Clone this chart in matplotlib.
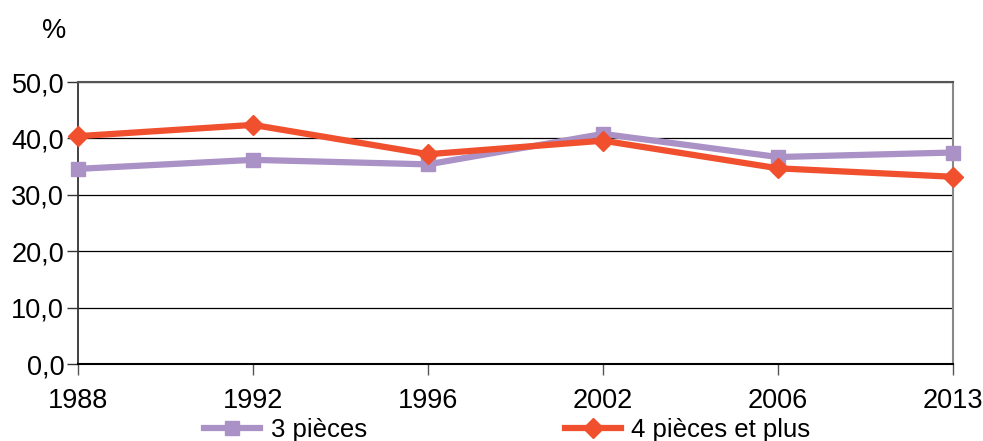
import matplotlib
matplotlib.use("Agg")
import matplotlib.pyplot as plt

plt.rcParams['font.family'] = ['Liberation Sans', 'DejaVu Sans']

years = ['1988', '1992', '1996', '2002', '2006', '2013']
trois_pieces = [34.6, 36.2, 35.4, 40.8, 36.7, 37.5]
quatre_pieces = [40.4, 42.4, 37.2, 39.6, 34.7, 33.2]
y_ticks = [0, 10, 20, 30, 40, 50]
y_labels = ['0,0', '10,0', '20,0', '30,0', '40,0', '50,0']

purple = '#AA91C6'
red = '#F0502E'

fig = plt.figure(figsize=(9.83, 4.41), dpi=100)
ax = fig.add_axes([0.0794, 0.1746, 0.8901, 0.6394])

x = list(range(len(years)))
ax.plot(x, trois_pieces, color=purple, lw=4.5, marker='s', ms=10,
        label='3 pièces', zorder=3, clip_on=False)
ax.plot(x, quatre_pieces, color=red, lw=4.5, marker='D', ms=10,
        label='4 pièces et plus', zorder=4, clip_on=False)

ax.set_xlim(0, len(years) - 1)
ax.set_ylim(0, 50)
ax.set_xticks(x)
ax.set_xticklabels(years, fontsize=19.5)
ax.set_yticks(y_ticks)
ax.set_yticklabels(y_labels, fontsize=19.5)
ax.tick_params(axis='x', direction='out', length=8, width=1, color='#555555', pad=9)
ax.tick_params(axis='y', direction='out', length=8, width=1, color='#333333', pad=2)

ax.grid(axis='y', color='black', lw=0.9)
ax.set_axisbelow(True)
ax.spines['top'].set_color('#555555')
ax.spines['top'].set_linewidth(1.5)
ax.spines['right'].set_color('#888888')
ax.spines['right'].set_linewidth(1.5)
ax.spines['left'].set_color('#333333')
ax.spines['left'].set_linewidth(1.3)
ax.spines['bottom'].set_color('black')
ax.spines['bottom'].set_linewidth(1.5)

fig.text(0.043, 0.93, '%', fontsize=19.5, ha='left', va='center')

fig.legend(loc='center', bbox_to_anchor=(0.516, 0.025), ncol=2, frameon=False,
           fontsize=18.5, handlelength=2.2, columnspacing=7.7, handletextpad=0.4,
           borderpad=0)

fig.savefig('out.png', dpi=100)
